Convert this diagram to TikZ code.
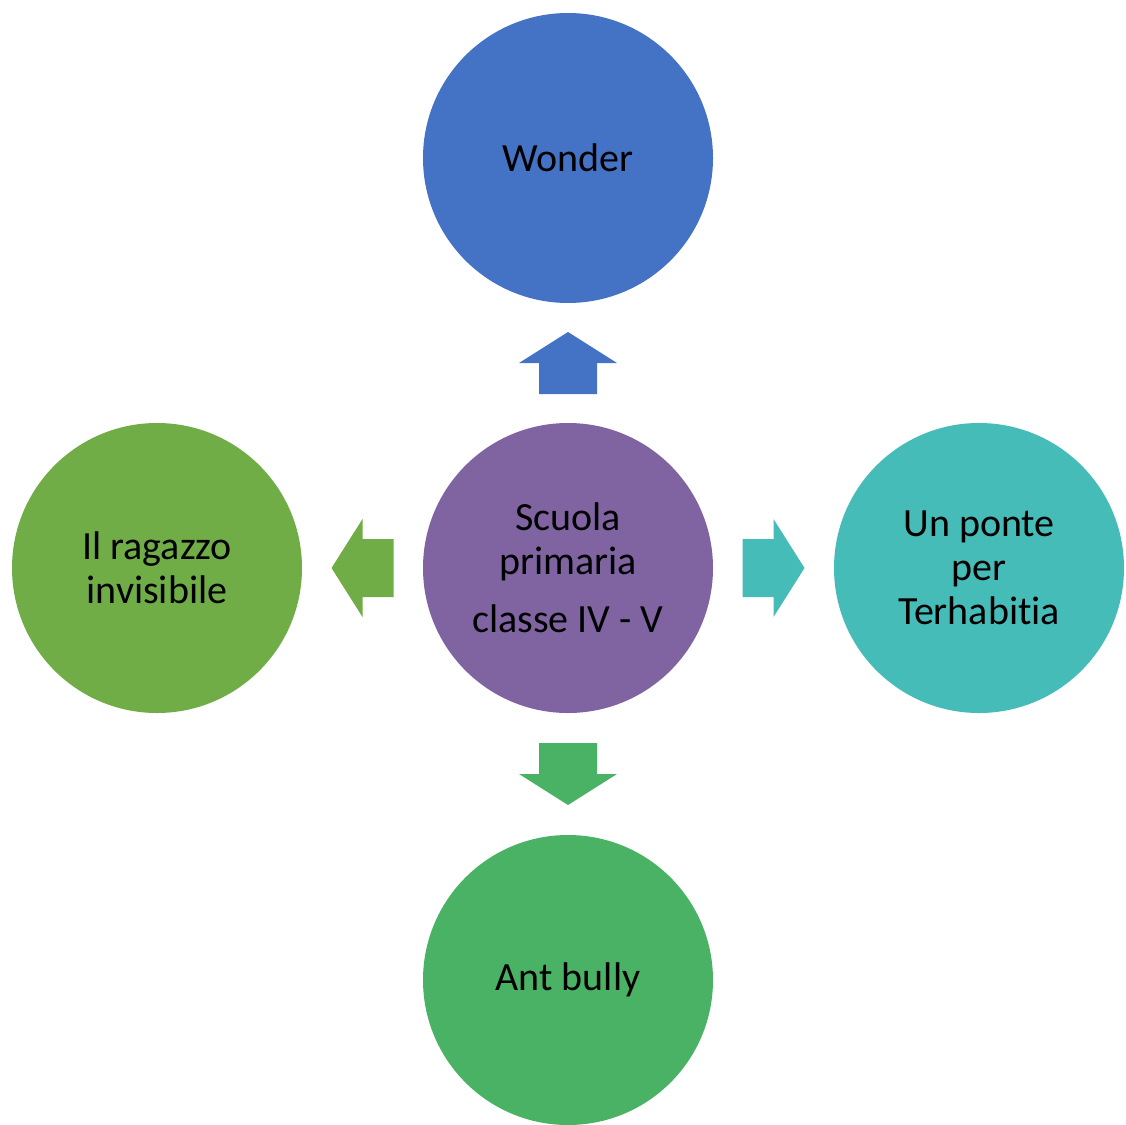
\documentclass[tikz,border=0pt]{standalone}
\usepackage{fontspec}
\setmainfont{Carlito}[Ligatures=NoCommon]
\usepackage{xcolor}
\usetikzlibrary{calc}
\usetikzlibrary{positioning}

\definecolor{wonderblue}{HTML}{4472C4}
\definecolor{schoolpurple}{HTML}{8064A2}
\definecolor{ponteteal}{HTML}{45BCB8}
\definecolor{bullygreen}{HTML}{4AB264}
\definecolor{ragazzogreen}{HTML}{70AD47}

\tikzset{
  book/.style={circle, minimum size=290pt, inner sep=0pt, align=center,
    text=black, font=\fontsize{40}{44}\selectfont},
}

% block arrow: position, rotation, colour
\newcommand{\fatarrow}[3]{%
  \fill[#3, shift={(#1)}, rotate=#2]
    (-31,-29) -- (0,-29) -- (0,-49) -- (31,0) -- (0,49) -- (0,29) -- (-31,29) -- cycle;}

\begin{document}
\begin{tikzpicture}[x=1pt, y=1pt]
              \useasboundingbox (0,0) rectangle (1126,-1124);
              \node[book, fill=schoolpurple] (school) at (568,-568)
                {Scuola\\primaria\\[14pt]classe IV - V};
              \node[book, fill=wonderblue] (wonder) at (568,-158) {Wonder};
              \node[book, fill=bullygreen] (bully) at (568,-980) {Ant bully};
              \node[book, fill=ragazzogreen] (ragazzo) at (157,-568)
                {Il ragazzo\\invisibile};
              \node[book, fill=ponteteal] (ponte) at (979,-568)
                {Un ponte\\per\\Terhabitia};

              \fatarrow{$(school.north)!0.5!(wonder.south)$}{90}{wonderblue}
              \fatarrow{$(school.south)!0.5!(bully.north)$}{-90}{bullygreen}
              \fatarrow{$(school.west)!0.5!(ragazzo.east)$}{180}{ragazzogreen}
              \fatarrow{$(school.east)!0.5!(ponte.west)$}{0}{ponteteal}
            \end{tikzpicture}
\end{document}
